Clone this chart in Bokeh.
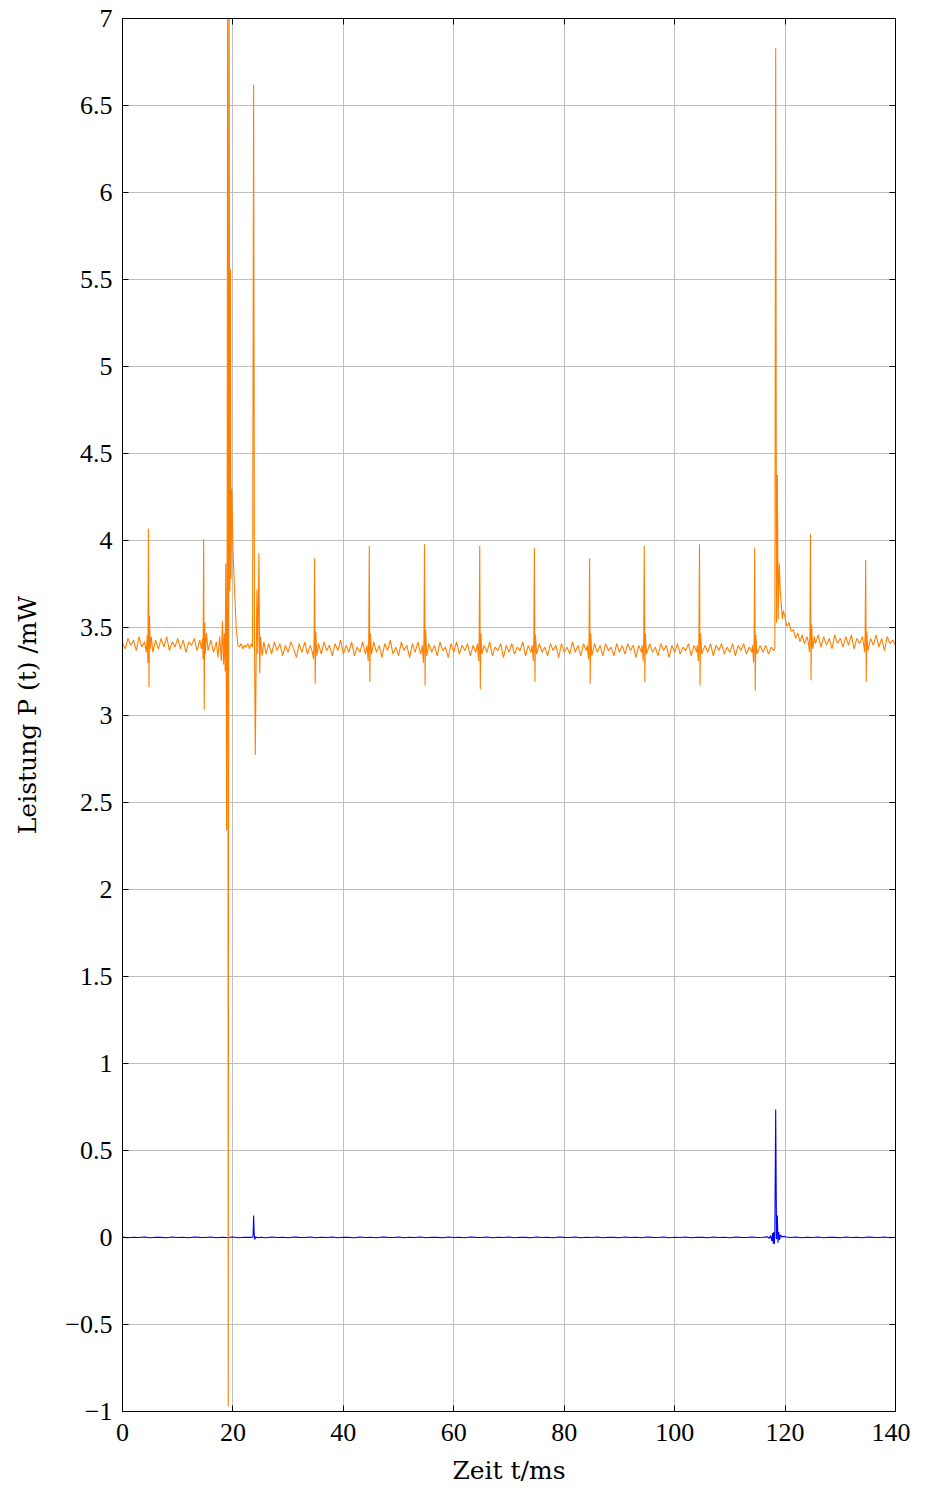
from bokeh.plotting import figure
from bokeh.models import LinearAxis, FixedTicker, CustomJSTickFormatter, Range1d
from bokeh.embed import file_html
from bokeh.resources import INLINE

# ---------------- data ----------------
x_ticks = [0, 20, 40, 60, 80, 100, 120, 140]
y_ticks = [-1, -0.5, 0, 0.5, 1, 1.5, 2, 2.5, 3, 3.5, 4, 4.5, 5, 5.5, 6, 6.5, 7]

orange_t = [
    0.0, 0.5, 1.0, 1.5, 2.0, 2.5, 3.0, 3.5, 4.0, 4.3, 4.5, 4.6, 4.7, 4.8, 4.9, 5.0, 5.2, 5.5,
    6.0, 6.5, 7.0, 7.5, 8.0, 8.5, 9.0, 9.5, 10.0, 10.5, 11.0, 11.5, 12.0, 12.5, 13.0, 13.5,
    14.0, 14.3, 14.5, 14.6, 14.7, 14.8, 14.9, 15.0, 15.2, 15.5, 16.0, 16.5, 17.0, 17.3, 17.6, 17.9,
    18.1, 18.3, 18.45, 18.6, 18.7, 18.8, 18.85, 18.95, 19.05, 19.15, 19.3, 19.45, 19.55, 19.65,
    19.8, 20.0, 20.3, 20.6, 20.9,
    21.2, 21.5, 21.8, 22.1, 22.4, 22.7, 23.0, 23.3, 23.55, 23.75, 23.9, 24.05, 24.2, 24.35, 24.5,
    24.7, 24.85, 25.0, 25.3, 25.6, 26.0, 26.5,
    27.0, 27.5, 28.0, 28.5, 29.0, 29.5, 30.0, 30.5, 31.0, 31.5, 32.0, 32.5, 33.0, 33.5, 34.0, 34.4,
    34.6, 34.7, 34.8, 34.9, 35.0, 35.2, 35.5, 36.0, 36.5, 37.0, 37.5, 38.0, 38.5, 39.0, 39.5,
    40.0, 40.5, 41.0, 41.5, 42.0, 42.5, 43.0, 43.5, 44.0, 44.3,
    44.5, 44.6, 44.7, 44.8, 44.9, 45.1, 45.5, 46.0, 46.5, 47.0, 47.5, 48.0, 48.5, 49.0, 49.5,
    50.0, 50.5, 51.0, 51.5, 52.0, 52.5, 53.0, 53.5, 54.0, 54.3,
    54.5, 54.6, 54.7, 54.8, 54.9, 55.1, 55.5, 56.0, 56.5, 57.0, 57.5, 58.0, 58.5, 59.0, 59.5,
    60.0, 60.5, 61.0, 61.5, 62.0, 62.5, 63.0, 63.5, 64.0, 64.3,
    64.5, 64.6, 64.7, 64.8, 64.9, 65.1, 65.5, 66.0, 66.5, 67.0, 67.5, 68.0, 68.5, 69.0, 69.5,
    70.0, 70.5, 71.0, 71.5, 72.0, 72.5, 73.0, 73.5, 74.0, 74.2,
    74.4, 74.5, 74.6, 74.7, 74.8, 75.0, 75.5, 76.0, 76.5, 77.0, 77.5, 78.0, 78.5, 79.0, 79.5,
    80.0, 80.5, 81.0, 81.5, 82.0, 82.5, 83.0, 83.5, 84.0, 84.2,
    84.4, 84.5, 84.6, 84.7, 84.8, 85.0, 85.5, 86.0, 86.5, 87.0, 87.5, 88.0, 88.5, 89.0, 89.5,
    90.0, 90.5, 91.0, 91.5, 92.0, 92.5, 93.0, 93.5, 94.0, 94.1,
    94.3, 94.4, 94.5, 94.6, 94.7, 94.9, 95.5, 96.0, 96.5, 97.0, 97.5, 98.0, 98.5, 99.0, 99.5,
    100.0, 100.5, 101.0, 101.5, 102.0, 102.5, 103.0, 103.5, 104.0, 104.1,
    104.3, 104.4, 104.5, 104.6, 104.7, 104.9, 105.5, 106.0, 106.5, 107.0, 107.5, 108.0, 108.5,
    109.0, 109.5, 110.0, 110.5, 111.0, 111.5, 112.0, 112.5, 113.0, 113.5, 114.0, 114.1,
    114.3, 114.4, 114.5, 114.6, 114.7, 114.9, 115.5, 116.0, 116.5, 117.0, 117.5, 117.9, 118.15,
    118.3, 118.45, 118.6, 118.75, 118.95, 119.1, 119.3, 119.5, 119.7, 120.0, 120.3, 120.7,
    121.1, 121.5, 121.9, 122.3, 122.7, 123.1, 123.5, 124.0, 124.3,
    124.4, 124.5, 124.6, 124.7, 124.8, 125.0, 125.3, 125.5, 126.0, 126.5, 127.0, 127.5, 128.0,
    128.5, 129.0, 129.5, 130.0, 130.5, 131.0, 131.5, 132.0, 132.5, 133.0, 133.5, 134.0, 134.3,
    134.4, 134.5, 134.6, 134.7, 134.8, 135.0, 135.5, 136.0, 136.5, 137.0, 137.5, 138.0, 138.5,
    139.0, 139.5, 140.0,
]
orange_p = [
    3.41, 3.38, 3.44, 3.40, 3.43, 3.37, 3.45, 3.39, 3.42, 3.36, 3.46, 3.30, 4.07, 3.16, 3.57, 3.38, 3.45, 3.36,
    3.43, 3.38, 3.44, 3.39, 3.45, 3.37, 3.42, 3.39, 3.44, 3.38, 3.43, 3.36, 3.42, 3.40, 3.44, 3.37,
    3.43, 3.38, 3.44, 3.32, 4.01, 3.03, 3.53, 3.35, 3.47, 3.37, 3.43, 3.36, 3.42, 3.33, 3.45, 3.31,
    3.54, 3.29, 3.47, 3.25, 3.87, 3.14, 2.34, 3.80, 7.40, -0.97, 7.40, 3.71, 5.56, 3.78,
    4.30, 3.96, 3.71, 3.50, 3.40,
    3.39, 3.41, 3.38, 3.40, 3.39, 3.41, 3.38, 3.41, 3.39, 6.62, 3.45, 2.77, 3.30, 3.72, 3.35,
    3.93, 3.24, 3.45, 3.34, 3.42, 3.35, 3.41,
    3.35, 3.42, 3.37, 3.41, 3.34, 3.40, 3.36, 3.42, 3.38, 3.33, 3.41, 3.36, 3.42, 3.35, 3.40, 3.36,
    3.32, 3.44, 3.90, 3.18, 3.48, 3.34, 3.41, 3.35, 3.42, 3.37, 3.40, 3.34, 3.41, 3.37, 3.43,
    3.35, 3.40, 3.36, 3.42, 3.34, 3.39, 3.36, 3.42, 3.35, 3.40,
    3.31, 3.45, 3.97, 3.19, 3.47, 3.35, 3.42, 3.36, 3.40, 3.33, 3.41, 3.37, 3.43, 3.35, 3.39,
    3.34, 3.42, 3.37, 3.40, 3.33, 3.41, 3.36, 3.42, 3.35, 3.40,
    3.30, 3.46, 3.98, 3.17, 3.49, 3.34, 3.41, 3.36, 3.40, 3.34, 3.42, 3.37, 3.39, 3.33, 3.41,
    3.36, 3.42, 3.35, 3.40, 3.37, 3.41, 3.34, 3.40, 3.36, 3.41,
    3.31, 3.44, 3.97, 3.15, 3.47, 3.35, 3.40, 3.36, 3.42, 3.34, 3.39, 3.37, 3.41, 3.33, 3.40,
    3.36, 3.41, 3.35, 3.39, 3.37, 3.42, 3.34, 3.40, 3.36, 3.40,
    3.31, 3.45, 3.96, 3.19, 3.46, 3.35, 3.41, 3.36, 3.39, 3.34, 3.41, 3.37, 3.40, 3.33, 3.41,
    3.36, 3.39, 3.35, 3.42, 3.36, 3.40, 3.34, 3.41, 3.37, 3.40,
    3.32, 3.44, 3.90, 3.18, 3.47, 3.34, 3.41, 3.36, 3.40, 3.34, 3.41, 3.37, 3.39, 3.34, 3.41,
    3.36, 3.40, 3.35, 3.41, 3.37, 3.40, 3.33, 3.40, 3.36, 3.40,
    3.31, 3.45, 3.97, 3.19, 3.47, 3.35, 3.41, 3.36, 3.39, 3.34, 3.41, 3.37, 3.40, 3.33, 3.40,
    3.36, 3.41, 3.35, 3.39, 3.37, 3.41, 3.34, 3.40, 3.36, 3.40,
    3.31, 3.45, 3.98, 3.17, 3.47, 3.35, 3.40, 3.36, 3.41, 3.34, 3.40, 3.37, 3.41,
    3.35, 3.39, 3.36, 3.41, 3.34, 3.40, 3.37, 3.41, 3.35, 3.39, 3.36, 3.40,
    3.30, 3.45, 3.96, 3.14, 3.46, 3.35, 3.40, 3.36, 3.40, 3.35, 3.39, 3.37, 3.38,
    6.83, 3.53, 4.38, 3.55, 3.87, 3.73, 3.64, 3.55, 3.60, 3.56, 3.51, 3.53,
    3.48, 3.49, 3.44, 3.47, 3.42, 3.46, 3.41, 3.45, 3.40,
    3.36, 3.47, 4.04, 3.20, 3.52, 3.38, 3.45, 3.41, 3.46, 3.39, 3.45, 3.40, 3.44,
    3.38, 3.46, 3.41, 3.44, 3.39, 3.45, 3.40, 3.46, 3.38, 3.44, 3.41, 3.45, 3.39,
    3.36, 3.46, 3.89, 3.19, 3.48, 3.37, 3.44, 3.40, 3.46, 3.39, 3.44, 3.37, 3.45,
    3.41, 3.43, 3.40,
]

blue_t = [
    0, 1, 2, 3, 4, 5, 6, 7, 8, 9, 10, 11, 12, 13, 14, 15, 16, 17, 18, 19, 20, 21, 22, 23,
    23.5, 23.65, 23.75, 23.85, 23.95, 24.1, 24.5,
    25, 26, 27, 28, 29, 30, 31, 32, 33, 34, 35, 36, 37, 38, 39, 40, 41, 42, 43, 44, 45, 46, 47,
    48, 49, 50, 51, 52, 53, 54, 55, 56, 57, 58, 59, 60, 61, 62, 63, 64, 65, 66, 67, 68, 69, 70,
    71, 72, 73, 74, 75, 76, 77, 78, 79, 80, 81, 82, 83, 84, 85, 86, 87, 88, 89, 90, 91, 92, 93,
    94, 95, 96, 97, 98, 99, 100, 101, 102, 103, 104, 105, 106, 107, 108, 109, 110, 111, 112,
    113, 114, 115, 116,
    116.8, 117.1, 117.4, 117.6, 117.75, 117.85, 117.95, 118.05, 118.15, 118.3, 118.45, 118.6,
    118.72, 118.85, 119.0, 119.15, 119.4, 119.8, 120.2,
    121, 122, 123, 124, 125, 126, 127, 128, 129, 130, 131, 132, 133, 134, 135, 136, 137, 138,
    139, 140,
]
blue_p = [
    0.002, -0.002, 0.001, -0.001, 0.002, -0.002, 0.001, 0.000, -0.002, 0.002, -0.001, 0.001,
    -0.002, 0.002, 0.000, -0.001, 0.002, -0.002, 0.001, -0.001, 0.002, -0.002, 0.001, 0.000,
    0.001, 0.010, 0.126, 0.020, -0.012, 0.003, -0.002,
    0.001, -0.002, 0.002, -0.001, 0.001, -0.002, 0.002, 0.000, -0.001, 0.002, -0.002, 0.001,
    -0.001, 0.002, -0.002, 0.001, 0.000, -0.002, 0.002, -0.001, 0.001, -0.002, 0.002,
    0.000, -0.001, 0.002, -0.002, 0.001, -0.001, 0.002, -0.002, 0.001, 0.000, -0.002, 0.002,
    -0.001, 0.001, -0.002, 0.002, 0.000, -0.001, 0.002, -0.002, 0.001, -0.001, 0.002,
    -0.002, 0.001, 0.000, -0.002, 0.002, -0.001, 0.001, -0.002, 0.002, 0.000, -0.001, 0.002,
    -0.002, 0.001, -0.001, 0.002, -0.002, 0.001, 0.000, -0.002, 0.002, -0.001, 0.001, -0.002,
    0.002, 0.000, -0.001, 0.002, -0.002, 0.001, -0.001, 0.002, -0.002, 0.001, 0.000, -0.002,
    0.002, -0.001, 0.001, -0.002, 0.002, 0.000, -0.001, 0.002, -0.001, 0.001,
    0.004, -0.006, 0.010, -0.020, 0.025, -0.035, 0.030, -0.040, 0.020, 0.734, -0.010, 0.126,
    -0.030, 0.030, -0.015, 0.015, 0.004, 0.006, 0.002,
    -0.001, 0.002, -0.002, 0.001, -0.001, 0.002, -0.002, 0.001, 0.000, -0.002, 0.002, -0.001,
    0.001, -0.002, 0.002, 0.000, -0.001, 0.002, -0.002, 0.001,
]

# ---------------- figure ----------------
FONT = "Liberation Serif"
LABEL_FONT = "DejaVu Serif"

p = figure(
    width=910, height=1490,
    x_range=Range1d(0, 140), y_range=Range1d(-1, 7),
    output_backend="svg", toolbar_location=None,
    min_border_left=122, min_border_right=15, min_border_top=18, min_border_bottom=79,
    background_fill_color="white", border_fill_color="white",
)
p.outline_line_color = "black"
p.outline_line_width = 1

p.line(blue_t, blue_p, line_color="#0000ff", line_width=1.1)
p.line(orange_t, orange_p, line_color="#ff8000", line_width=1.1)

minus_fmt = CustomJSTickFormatter(code="return tick < 0 ? '\\u2212' + (-tick) : '' + tick;")
empty_fmt = CustomJSTickFormatter(code="return '';")

def style_axis(ax, ticks, labels=True):
    ax.ticker = FixedTicker(ticks=ticks)
    ax.major_tick_in = 6
    ax.major_tick_out = 0
    ax.minor_tick_line_color = None
    ax.axis_line_color = "black"
    ax.axis_line_width = 1
    ax.major_tick_line_color = "black"
    ax.major_tick_line_width = 1
    ax.major_label_text_font = FONT
    ax.major_label_text_font_size = "26px"
    ax.major_label_text_color = "black"
    ax.axis_label_text_font = LABEL_FONT
    ax.axis_label_text_font_size = "25px"
    ax.axis_label_text_font_style = "normal"
    ax.axis_label_text_color = "black"
    if labels:
        ax.formatter = minus_fmt
    else:
        ax.formatter = empty_fmt
        ax.major_label_standoff = 0

xa = p.xaxis[0]
ya = p.yaxis[0]
style_axis(xa, x_ticks)
style_axis(ya, y_ticks)
xa.axis_label = "Zeit t/ms"
ya.axis_label = "Leistung P (t) /mW"
xa.major_label_standoff = 12
xa.axis_label_standoff = 12
ya.major_label_standoff = 10
ya.axis_label_standoff = 20

top_ax = LinearAxis()
right_ax = LinearAxis()
style_axis(top_ax, x_ticks, labels=False)
style_axis(right_ax, y_ticks, labels=False)
p.add_layout(top_ax, "above")
p.add_layout(right_ax, "right")

p.xgrid.ticker = FixedTicker(ticks=x_ticks)
p.ygrid.ticker = FixedTicker(ticks=y_ticks)
p.xgrid.grid_line_color = "#bfbfbf"
p.ygrid.grid_line_color = "#bfbfbf"
p.xgrid.grid_line_width = 1
p.ygrid.grid_line_width = 1

open("out.html", "w").write(file_html(p, INLINE))
